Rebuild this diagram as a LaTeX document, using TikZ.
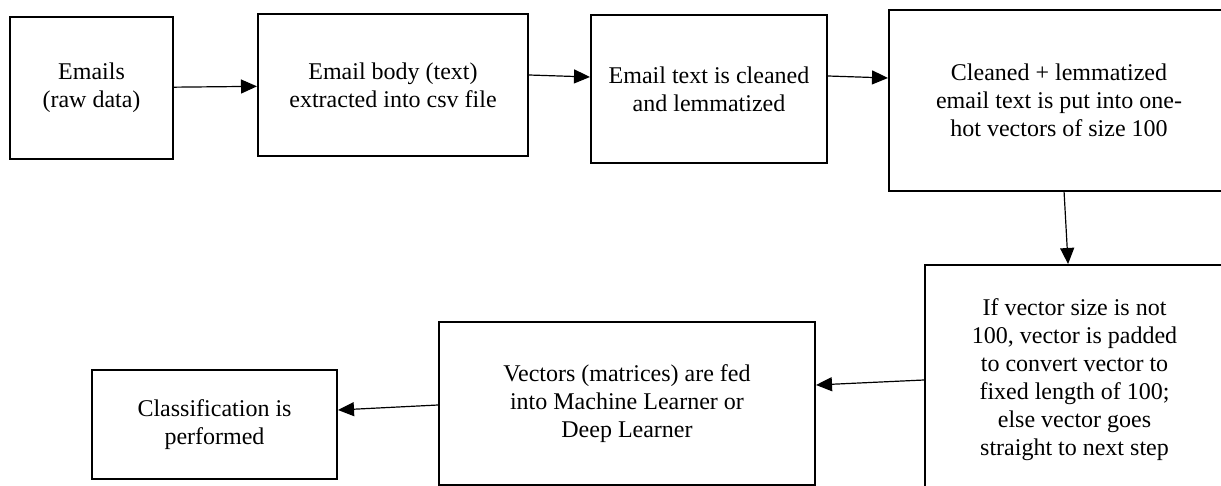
\documentclass[tikz,border=0pt]{standalone}
\usepackage{fontspec}
\setmainfont{Liberation Serif}
\usetikzlibrary{positioning, arrows.meta}

\begin{document}
\begin{tikzpicture}[
    x=0.5pt, y=-0.5pt,
    every node/.style={draw, rectangle, line width=1pt, inner sep=2pt, align=center, font=\fontsize{12}{14}\selectfont},
    arrow/.style={-{Triangle[length=8pt, width=7pt]}, line width=0.6pt}
]
\useasboundingbox (0,0) rectangle (1221,486);

\node[minimum width=81.5pt, minimum height=71pt] (raw) at (91.5,88) {Emails\\(raw data)};
\node[minimum width=135pt, minimum height=71pt, right=41.5pt of raw, yshift=1.5pt] (body) {Email body (text)\\extracted into csv file};
\node[minimum width=118pt, minimum height=74pt, right=30.5pt of body, yshift=-2pt] (clean) {Email text is cleaned\\and lemmatized};
\node[minimum width=170pt, minimum height=90.5pt, right=30pt of clean, yshift=-5.75pt] (onehot) {Cleaned + lemmatized\\email text is put into one-\\hot vectors of size 100};
\node[minimum width=149.5pt, minimum height=115pt, below=36pt of onehot, xshift=7.75pt] (pad) {If vector size is not\\100, vector is padded\\to convert vector to\\fixed length of 100;\\else vector goes\\straight to next step};
\node[minimum width=188pt, minimum height=81.5pt, left=54pt of pad, yshift=-11.75pt] (feed) {Vectors (matrices) are fed\\into Machine Learner or\\Deep Learner};
\node[minimum width=122.5pt, minimum height=54.5pt, left=50pt of feed, yshift=-10.5pt] (result) {Classification is\\performed};

\draw[arrow] (raw) -- (body);
\draw[arrow] ([yshift=5pt]body.east) -- ([yshift=6pt]clean.west);
\draw[arrow] ([yshift=6.5pt]clean.east) -- ([yshift=11.25pt]onehot.west);
\draw[arrow] (onehot) -- (pad);
\draw[arrow] (pad.west) -- ([yshift=9.25pt]feed.east);
\draw[arrow] ([yshift=-0.75pt]feed.west) -- ([yshift=7.25pt]result.east);

\end{tikzpicture}
\end{document}
